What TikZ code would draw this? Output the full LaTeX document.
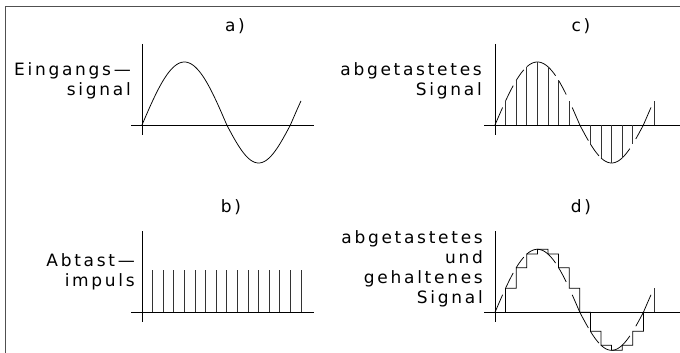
\documentclass[tikz,border=0pt]{standalone}
\usepackage{fontspec}
\usepackage{tikz}
\usetikzlibrary{positioning}
\newfontfamily\cadfont[LetterSpace=16]{DejaVu Sans}
\definecolor{frmgray}{RGB}{80,80,80}
\tikzset{
  frame/.style={line width=1.2pt, color=frmgray},
  axisline/.style={line width=0.9pt, color=black},
  waveline/.style={line width=0.75pt, color=black},
  pulseline/.style={line width=0.75pt, color=black!80},
  holdline/.style={line width=0.75pt, color=black, line join=miter},
  caplbl/.style={font=\cadfont\fontsize{17}{20}\selectfont, inner sep=0pt},
  sidelbl/.style={font=\cadfont\fontsize{17}{20}\selectfont, align=right,
    anchor=north east, inner sep=0pt},
  declare function={
    wave(\u)=ifthenelse(\u<84.8, 63*sin(\u/84.8*180),
      ifthenelse(\u<148.4, -38*sin((\u-84.8)/63.6*180),
        63*sin((\u-148.4)/84.8*180)));
  }
}
\begin{document}
\begin{tikzpicture}[x=1pt, y=1pt]
  \useasboundingbox (0,0) rectangle (680,353);
  % Rahmen
  \draw[frame] (5.5,-20) -- (5.5,346.5) -- (700,346.5);

  % Ueberschriften
  \node[caplbl] (capa) at (235,327) {a)};
  \node[caplbl] (capb) at (231,146) {b)};
  \node[caplbl] (capc) at (581,327) {c)};
  \node[caplbl] (capd) at (581,146) {d)};

  % Beschriftungen links
  \node[sidelbl] (lbla) at (131,291) {Eingangs\textemdash\\signal};
  \node[sidelbl] (lblb) at (135,100) {Abtast\textemdash\\impuls};
  \node[sidelbl] (lblc) at (482,291) {abgetastetes\\Signal};
  \node[sidelbl] (lbld) at (483,123) {abgetastetes\\und\\gehaltenes\\Signal};

  % a) Eingangssignal
  \begin{scope}[shift={(142,228)}]
    \draw[axisline] (0,81) -- (0,-10);
    \draw[axisline] (-11,0) -- (172,0);
    \draw[waveline] plot[domain=0:159, samples=120, smooth] (\x,{wave(\x)});
  \end{scope}

  % b) Abtastimpuls
  \begin{scope}[shift={(142,40.7)}]
    \draw[axisline] (0,81) -- (0,-10);
    \draw[axisline] (-11,0) -- (172,0);
    \foreach \k in {1,...,15}
      \draw[pulseline] ({\k*10.6},0) -- ({\k*10.6},42.3);
  \end{scope}

  % c) abgetastetes Signal
  \begin{scope}[shift={(495,228)}]
    \draw[axisline] (0,81) -- (0,-10);
    \draw[axisline] (-11,0) -- (190,0);
    \foreach \k/\a/\b in {0/0/3,1/0/3,2/0/3,3/0/0,4/0/0,5/0/3,6/0/3,7/3/0,
                          8/0/2,9/0/2,10/0/0,11/0/0,12/0/3,13/3/0,14/0/3}
      \draw[waveline] plot[domain={\k*10.6+\a}:{(\k+1)*10.6-\b}, samples=12, smooth]
        (\x,{wave(\x)});
    \foreach \k in {1,...,7,9,10,...,13,15}
      \draw[pulseline] ({\k*10.6},0) -- ({\k*10.6},{wave(\k*10.6)});
  \end{scope}

  % d) abgetastetes und gehaltenes Signal
  \begin{scope}[shift={(495,40.7)}]
    \draw[axisline] (0,81) -- (0,-10);
    \draw[axisline] (-11,0) -- (190,0);
    \foreach \k/\a/\b in {0/0/3,1/0/3,2/0/3,3/0/0,4/0/0,5/0/3,6/0/3,7/3/0,
                          8/0/2,9/0/2,10/0/0,11/0/0,12/0/3,13/3/0,14/0/3}
      \draw[waveline] plot[domain={\k*10.6+\a}:{(\k+1)*10.6-\b}, samples=12, smooth]
        (\x,{wave(\x)});
    \draw[holdline] (10.6,0)
      \foreach \k in {1,...,13} { -- ({\k*10.6},{wave(\k*10.6)}) -- ({(\k+1)*10.6},{wave(\k*10.6)}) }
      -- (148.4,0);
    \draw[pulseline] (159,0) -- (159,{wave(159)});
  \end{scope}
\end{tikzpicture}
\end{document}
